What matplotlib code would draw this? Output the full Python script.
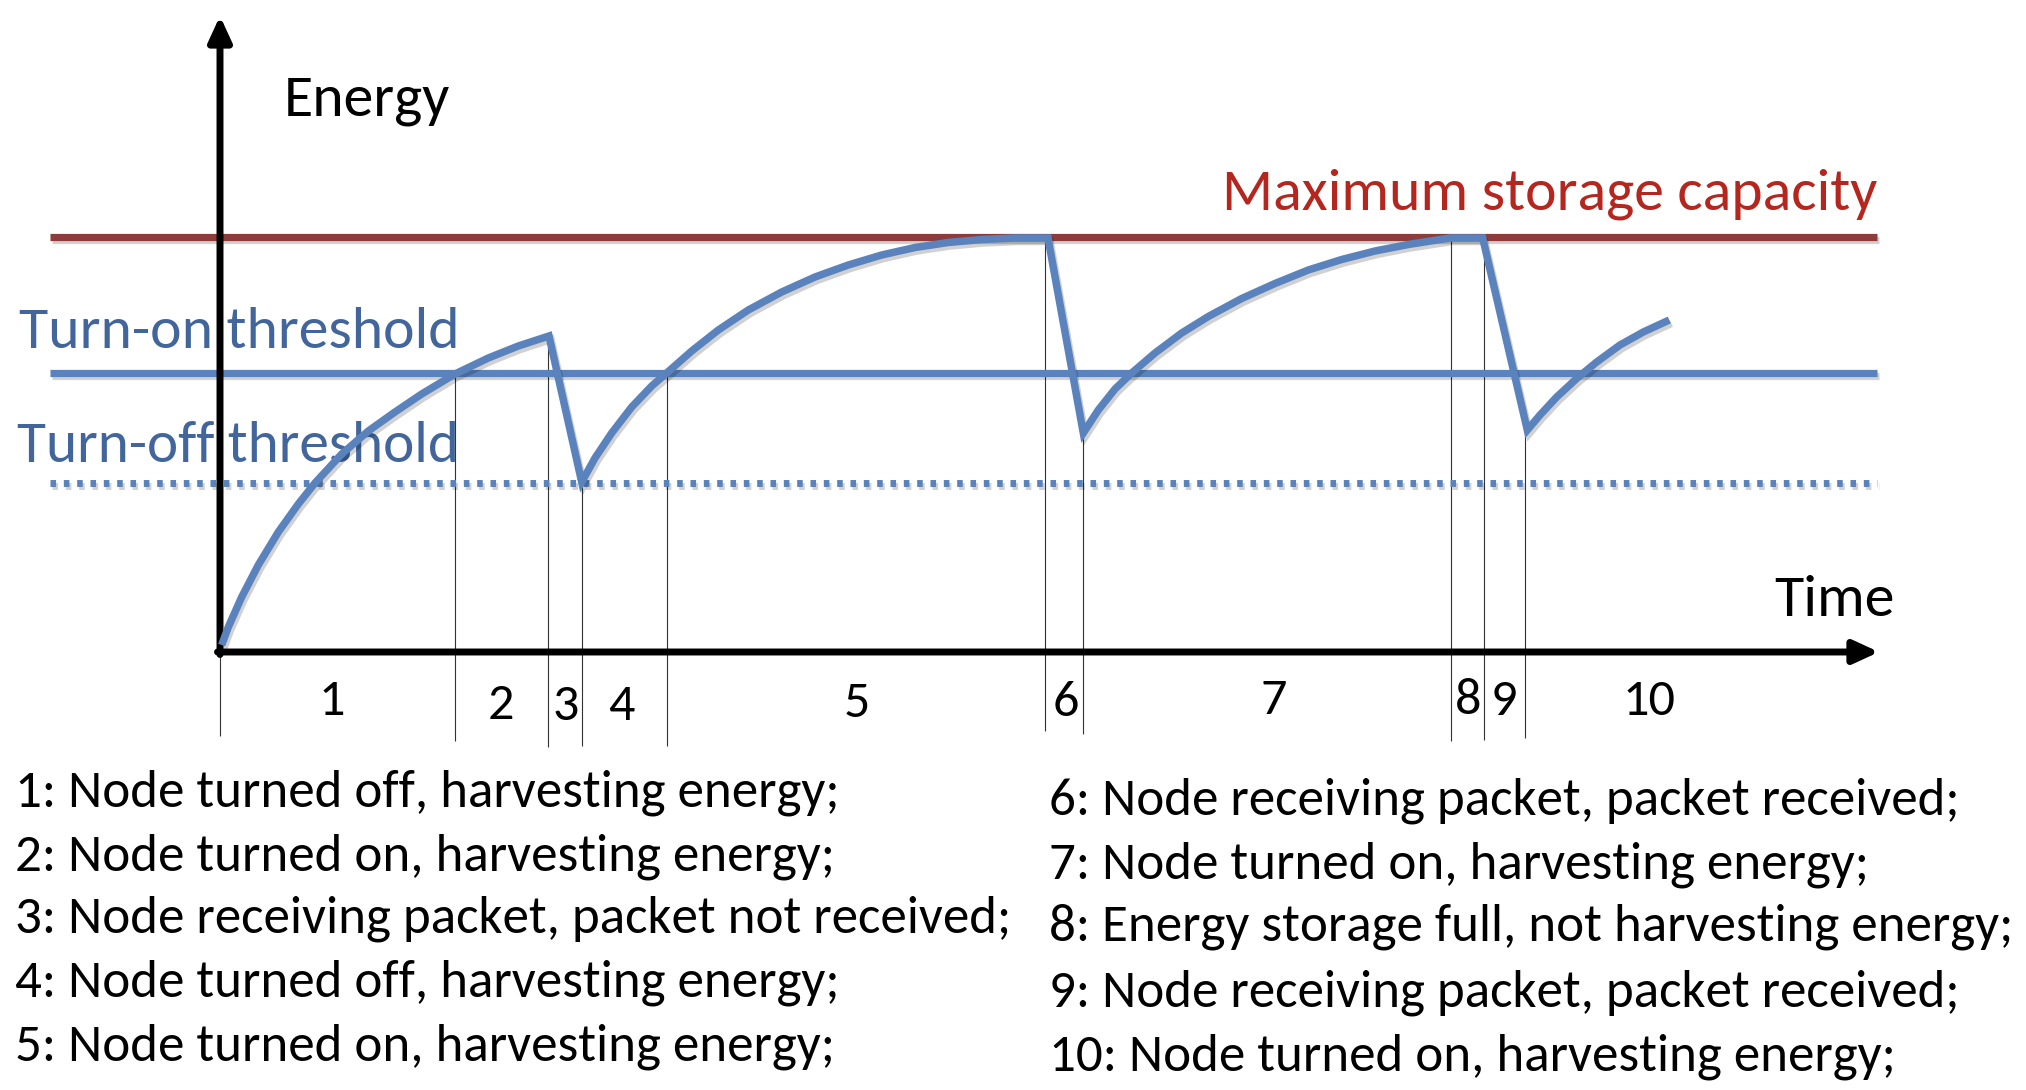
import numpy as np
import matplotlib.pyplot as plt
import matplotlib.patheffects as pe

# energy levels (arbitrary units, 0 = time axis)
max_capacity = 41.5
turn_on = 27.9
turn_off = 16.9
level_start, level_end = -17.0, 165.7
time_axis_end = 165.9
energy_axis_top = 63.6

# stored energy of the node over time
curve_time = [0.17, 0.83, 2.17, 3.83, 5.83, 7.83, 9.5, 12.17, 14.83, 17.5, 20.17,
              23.5, 26.83, 29.83, 32.9,
              36.17, 37.5, 39.17, 41.17, 43.17, 44.67, 47.17, 49.83, 52.83, 56.17,
              59.5, 62.83, 66.17, 69.5, 72.83, 76.17, 79.5, 82.8,
              86.33, 87.83, 89.5, 91.17, 93.5, 96.17, 98.83, 102.17, 105.5, 108.83,
              112.17, 115.5, 118.83, 123.0, 126.27,
              130.73, 132.0, 133.67, 135.67, 137.67, 140.0, 142.33, 144.93]
curve_energy = [0.7, 2.5, 5.5, 8.7, 12.0, 14.8, 16.9, 19.8, 22.1, 24.0, 25.8,
                27.8, 29.4, 30.6, 31.6,
                17.0, 19.4, 21.9, 24.5, 26.6, 27.9, 30.1, 32.2, 34.2, 36.0,
                37.5, 38.7, 39.7, 40.45, 40.95, 41.25, 41.4, 41.4,
                21.9, 24.2, 26.3, 27.9, 29.9, 31.9, 33.55, 35.35, 36.85, 38.2,
                39.25, 40.1, 40.75, 41.4, 41.4,
                22.2, 23.7, 25.5, 27.35, 29.0, 30.7, 32.0, 33.2]

# thin phase boundaries
marker_time = [0.0, 23.5, 32.8, 36.2, 44.7, 82.5, 86.3, 123.1, 126.4, 130.5]
marker_top = [0.0, 27.9, 31.6, 16.9, 27.9, 41.4, 21.9, 41.4, 41.4, 22.2]
marker_bottom = [-8.4, -8.9, -9.5, -9.4, -9.4, -7.9, -8.2, -8.9, -8.8, -8.6]

phase_labels = ['1', '2', '3', '4', '5', '6', '7', '8', '9', '10']
phase_time = [11.2, 28.1, 34.6, 40.1, 63.7, 84.6, 105.4, 124.8, 128.4, 142.9]
phase_base = [-6.3, -6.7, -6.8, -6.8, -6.5, -6.4, -6.2, -6.2, -6.3, -6.3]

legend_left = ['1: Node turned off, harvesting energy;',
               '2: Node turned on, harvesting energy;',
               '3: Node receiving packet, packet not received;',
               '4: Node turned off, harvesting energy;',
               '5: Node turned on, harvesting energy;']
legend_right = ['6: Node receiving packet, packet received;',
                '7: Node turned on, harvesting energy;',
                '8: Energy storage full, not harvesting energy;',
                '9: Node receiving packet, packet received;',
                '10: Node turned on, harvesting energy;']
left_base = [-15.4, -21.9, -28.1, -34.5, -40.9]
right_base = [-16.2, -22.7, -28.9, -35.5, -41.8]

blue = '#5A83BD'
blue_text = '#42669C'
dark_red = '#8E3B3B'
red_text = '#B5261E'

plt.rcParams['font.family'] = ['Carlito', 'Lato', 'DejaVu Sans']

fig = plt.figure(figsize=(20.26, 10.90), dpi=100)
ax = fig.add_axes([0, 0, 1, 1])
ax.set_xlim(-22.0, 180.6)
ax.set_ylim(-43.8, 65.2)
ax.axis('off')

shadow = [pe.SimpleLineShadow(offset=(1.5, -2.5), shadow_color='k', alpha=0.18), pe.Normal()]

# threshold / capacity levels
ax.plot([level_start, level_end], [max_capacity, max_capacity], color=dark_red, lw=5.2,
        solid_capstyle='butt', path_effects=shadow, zorder=2)
ax.plot([level_start, level_end], [turn_on, turn_on], color=blue, lw=5.2,
        solid_capstyle='butt', path_effects=shadow, zorder=2)
ax.plot([level_start, level_end], [turn_off, turn_off], color=blue, lw=5.0,
        linestyle=(0, (0.8, 1.12)), dash_capstyle='butt', path_effects=shadow, zorder=2)

# phase boundaries
ax.vlines(marker_time, marker_bottom, marker_top, color='#333333', lw=0.8, zorder=1)

# axes with arrows
arrow = dict(arrowstyle='-|>,head_length=0.5,head_width=0.23', mutation_scale=30,
             lw=5, color='black', shrinkA=0, shrinkB=0)
ax.annotate('', xy=(0, energy_axis_top), xytext=(0, -0.25), arrowprops=arrow, zorder=3)
ax.annotate('', xy=(time_axis_end, 0), xytext=(-0.25, 0), arrowprops=arrow, zorder=3)

# energy curve
ax.plot(curve_time, curve_energy, color=blue, lw=5.4, solid_joinstyle='miter',
        solid_capstyle='butt', path_effects=shadow, zorder=4)

# texts
ax.text(6.4, 53.6, 'Energy', fontsize=43, va='baseline', ha='left')
ax.text(155.4, 3.6, 'Time', fontsize=43, va='baseline', ha='left')
ax.text(165.7, 44.2, 'Maximum storage capacity', fontsize=43, color=red_text,
        va='baseline', ha='right')
ax.text(-20.1, 30.4, 'Turn-on threshold', fontsize=43, color=blue_text, va='baseline')
ax.text(-20.3, 19.0, 'Turn-off threshold', fontsize=42.7, color=blue_text, va='baseline')

for lab, t, b in zip(phase_labels, phase_time, phase_base):
    ax.text(t, b, lab, fontsize=37.5, ha='center', va='baseline')

for s, b in zip(legend_left, left_base):
    ax.text(-20.5, b, s, fontsize=38.2, va='baseline', ha='left')
for s, b in zip(legend_right, right_base):
    ax.text(82.9, b, s, fontsize=38.2, va='baseline', ha='left')

fig.savefig('out.png', dpi=100)
